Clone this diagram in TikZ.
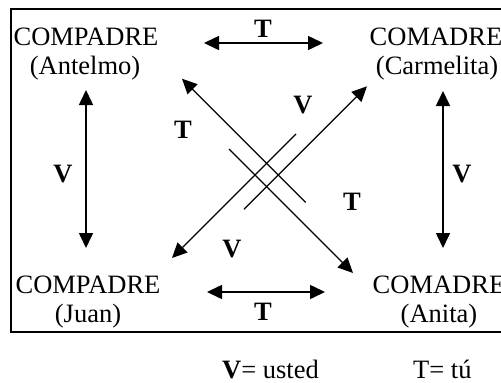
\documentclass[tikz,border=0pt]{standalone}
\usepackage{fontspec}
\setmainfont{Liberation Serif}
\usetikzlibrary{arrows.meta}
\begin{document}
\begin{tikzpicture}[x=1pt,y=-1pt,
  punta/.style={Triangle[length=15pt,width=14pt]},
  flecha/.style={line width=1.3pt,-{Triangle[length=15pt,width=14pt]}},
  dflecha/.style={line width=1.6pt,{Triangle[length=15pt,width=14pt]}-{Triangle[length=15pt,width=14pt]}},
  texto/.style={font=\fontsize{26.5}{29}\selectfont,inner sep=0pt,anchor=base},
  letra/.style={texto,font=\fontsize{26.5}{29}\selectfont\bfseries}]

\useasboundingbox (0,0) rectangle (501,383);

% Marco
\draw[line width=2.5pt] (11,9) rectangle (506,332);

% Personas
\node[texto] (antelmo-rol) at (86,45) {COMPADRE};
\node[texto] (antelmo) at (85,74) {(Antelmo)};
\node[texto] (carmelita-rol) at (436,45) {COMADRE};
\node[texto] (carmelita) at (437,74) {(Carmelita)};
\node[texto] (juan-rol) at (88,293) {COMPADRE};
\node[texto] (juan) at (88,322) {(Juan)};
\node[texto] (anita-rol) at (439,293) {COMADRE};
\node[texto] (anita) at (439,322) {(Anita)};

% Extremos de las flechas
\coordinate (arriba-izq) at (204,43);
\coordinate (arriba-der) at (323,43);
\coordinate (abajo-izq) at (207,292);
\coordinate (abajo-der) at (325,292);
\coordinate (izq-arriba) at (86,90);
\coordinate (izq-abajo) at (86,248);
\coordinate (der-arriba) at (443,91);
\coordinate (der-abajo) at (443,248);
\coordinate (no) at (182,78.7);
\coordinate (no-ini) at (305.7,202.4);
\coordinate (se) at (353,273);
\coordinate (se-ini) at (229,149);
\coordinate (ne) at (367,86.3);
\coordinate (ne-ini) at (244,209.3);
\coordinate (so) at (172,258);
\coordinate (so-ini) at (296,134);

% Flechas dobles
\draw[dflecha] (arriba-izq) -- (arriba-der);
\draw[dflecha] (abajo-izq) -- (abajo-der);
\draw[dflecha] (izq-arriba) -- (izq-abajo);
\draw[dflecha] (der-arriba) -- (der-abajo);

% Flechas diagonales
\draw[flecha] (no-ini) -- (no);
\draw[flecha] (se-ini) -- (se);
\draw[flecha] (ne-ini) -- (ne);
\draw[flecha] (so-ini) -- (so);

% Letras
\node[letra] (t-arriba) at (263,37) {T};
\node[letra] (t-abajo) at (263,320) {T};
\node[letra] (v-izq) at (63,182) {V};
\node[letra] (v-der) at (462,182) {V};
\node[letra] (t-no) at (183,138) {T};
\node[letra] (v-ne) at (303,113) {V};
\node[letra] (t-se) at (352,210) {T};
\node[letra] (v-so) at (232,257) {V};

% Leyenda
\node[texto,anchor=base west] (leyenda-v) at (222,378) {\textbf{V}= usted};
\node[texto,anchor=base west] (leyenda-t) at (413,378) {T= tú};

\end{tikzpicture}
\end{document}
